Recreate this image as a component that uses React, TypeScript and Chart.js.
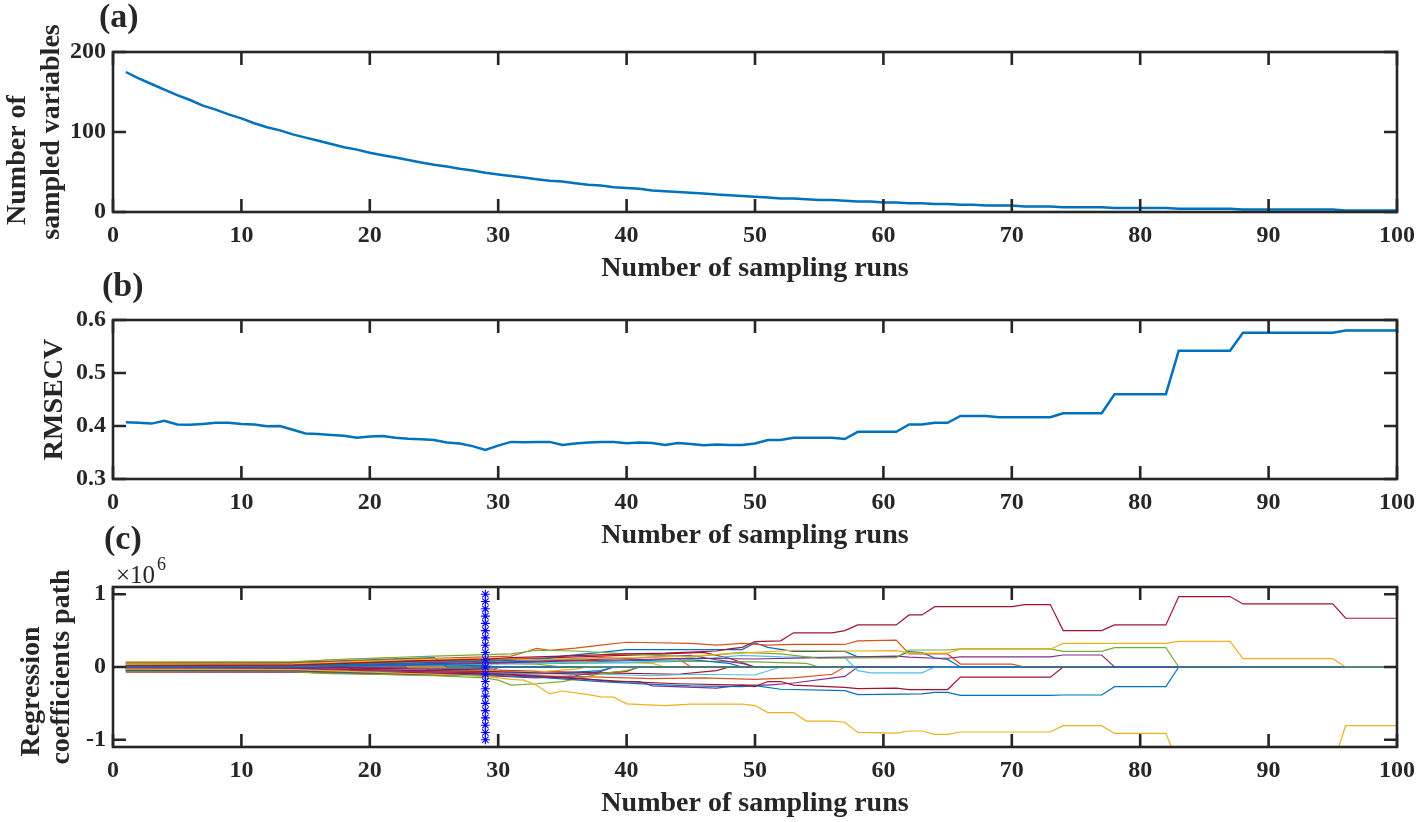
import React, { useEffect, useRef } from 'react';
import { Chart, registerables } from 'chart.js';

Chart.register(...registerables);

const AXIS = '#262626';
const LINE_BLUE = '#0072BD';
const FONT = '"Liberation Serif", "Times New Roman", serif';
const TICK_LEN = 13;

// ---------- tick values ----------
const runTicks = [0, 10, 20, 30, 40, 50, 60, 70, 80, 90, 100];
const sampledTicks = [0, 100, 200];
const rmsecvTicks = [0.3, 0.4, 0.5, 0.6];
const coefTicks = [-1, 0, 1];

// ---------- panel (a): number of sampled variables, runs 1..100 ----------
const sampledVariables = [
  175, 167, 160, 153, 146, 140, 133, 128, 122, 117,
  111, 106, 102, 97, 93, 89, 85, 81, 78, 74,
  71, 68, 65, 62, 59, 57, 54, 52, 49, 47,
  45, 43, 41, 39, 38, 36, 34, 33, 31, 30,
  29, 27, 26, 25, 24, 23, 22, 21, 20, 19,
  18, 17, 17, 16, 15, 15, 14, 13, 13, 12,
  12, 11, 11, 10, 10, 9, 9, 8, 8, 8,
  7, 7, 7, 6, 6, 6, 6, 5, 5, 5,
  5, 5, 4, 4, 4, 4, 4, 3, 3, 3,
  3, 3, 3, 3, 3, 2, 2, 2, 2, 2,
];

// ---------- panel (b): RMSECV, runs 1..100 ----------
const rmsecv = [
  0.407, 0.406, 0.4045, 0.41, 0.403, 0.4025, 0.404, 0.406, 0.406, 0.404,
  0.403, 0.3995, 0.4, 0.393, 0.386, 0.385, 0.383, 0.3815, 0.378, 0.38,
  0.381, 0.378, 0.376, 0.375, 0.3736, 0.369, 0.367, 0.362, 0.3547, 0.363,
  0.37, 0.3693, 0.37, 0.37, 0.3642, 0.367, 0.369, 0.37, 0.37, 0.3673,
  0.369, 0.368, 0.364, 0.368, 0.366, 0.3635, 0.365, 0.364, 0.364, 0.367,
  0.3736, 0.3736, 0.378, 0.378, 0.378, 0.378, 0.3755, 0.389, 0.389, 0.389,
  0.389, 0.403, 0.403, 0.406, 0.406, 0.419, 0.419, 0.419, 0.4165, 0.4165,
  0.4165, 0.4165, 0.4165, 0.424, 0.424, 0.424, 0.424, 0.46, 0.46, 0.46,
  0.46, 0.46, 0.542, 0.542, 0.542, 0.542, 0.542, 0.576, 0.576, 0.576,
  0.576, 0.576, 0.576, 0.576, 0.576, 0.58, 0.58, 0.58, 0.58, 0.58,
];

// ---------- panel (c): regression coefficient paths ([run, value x1e6]) ----------
const optimalRun = 29;
const markerLevels = [-1, -0.9, -0.8, -0.7, -0.6, -0.5, -0.4, -0.3, -0.2, -0.1, 0, 0.1, 0.2, 0.3, 0.4, 0.5, 0.6, 0.7, 0.8, 0.9, 1];

const coefPath00 = [[1, 0.008], [14, 0.01], [20, 0.02], [25, 0.03], [29, 0.02], [30, 0], [100, 0]];
const coefPath01 = [[1, 0.02], [14, 0.025], [20, 0.06], [25, 0.09], [29, 0.11], [31, 0.13], [35, 0.15], [40, 0.18], [43, 0.19], [47, 0.22], [48, 0.25], [49, 0.27], [50, 0.35], [52, 0.36], [53, 0.47], [56, 0.47], [57, 0.5], [58, 0.578], [61, 0.578], [62, 0.716], [63, 0.716], [64, 0.83], [70, 0.83], [71, 0.858], [73, 0.858], [74, 0.5], [77, 0.5], [78, 0.578], [82, 0.578], [83, 0.968], [87, 0.968], [88, 0.867], [95, 0.867], [96, 0.67], [100, 0.67]];
const coefPath02 = [[1, -0.03], [14, -0.035], [20, -0.07], [25, -0.1], [29, -0.13], [31, -0.17], [32, -0.18], [33, -0.25], [34, -0.37], [35, -0.33], [37, -0.38], [38, -0.41], [39, -0.415], [40, -0.507], [43, -0.53], [45, -0.51], [49, -0.51], [50, -0.53], [51, -0.626], [53, -0.626], [54, -0.744], [56, -0.744], [57, -0.76], [58, -0.9], [61, -0.908], [62, -0.88], [63, -0.88], [64, -0.927], [65, -0.927], [66, -0.894], [73, -0.894], [74, -0.807], [77, -0.807], [78, -0.913], [82, -0.913], [83, -1.35], [95, -1.35], [96, -0.807], [100, -0.807]];
const coefPath03 = [[1, 0.04], [14, 0.045], [20, 0.08], [25, 0.11], [29, 0.12], [33, 0.1], [38, 0.12], [45, 0.15], [50, 0.2], [53, 0.23], [57, 0.22], [61, 0.225], [62, 0.19], [65, 0.19], [66, 0.245], [73, 0.245], [74, 0.325], [82, 0.325], [83, 0.353], [87, 0.353], [88, 0.115], [95, 0.115], [96, 0], [100, 0]];
const coefPath04 = [[1, 0.065], [14, 0.07], [17, 0.1], [20, 0.12], [25, 0.15], [29, 0.17], [31, 0.18], [33, 0.23], [36, 0.22], [40, 0.18], [45, 0.14], [49, 0.2], [52, 0.18], [55, 0.12], [61, 0.13], [62, 0.234], [65, 0.234], [66, 0.248], [73, 0.248], [74, 0.216], [77, 0.216], [78, 0.266], [82, 0.266], [83, 0], [100, 0]];
const coefPath05 = [[1, -0.01], [14, -0.01], [20, 0.02], [29, 0.05], [35, 0.08], [40, 0.1], [45, 0.12], [50, 0.11], [55, 0.13], [58, 0.14], [61, 0.15], [62, 0.135], [64, 0.12], [65, 0.12], [66, 0.138], [73, 0.138], [74, 0.165], [77, 0.165], [78, 0], [100, 0]];
const coefPath06 = [[1, 0.05], [14, 0.055], [20, 0.09], [25, 0.12], [29, 0.14], [31, 0.15], [32, 0.2], [33, 0.256], [34, 0.23], [36, 0.26], [38, 0.3], [40, 0.34], [45, 0.325], [47, 0.3], [49, 0.325], [51, 0.3], [53, 0.31], [57, 0.31], [58, 0.36], [61, 0.37], [62, 0.18], [65, 0.18], [66, 0.04], [70, 0.04], [71, 0], [100, 0]];
const coefPath07 = [[1, 0.01], [14, 0.015], [20, 0.04], [29, 0.08], [33, 0.1], [35, 0.15], [38, 0.2], [40, 0.24], [49, 0.24], [50, 0.33], [51, 0.27], [53, 0.215], [57, 0.215], [58, 0.14], [61, 0.138], [62, 0.21], [63, 0.197], [64, 0.124], [65, 0.105], [66, 0], [100, 0]];
const coefPath08 = [[1, 0], [14, 0.005], [20, 0.02], [29, 0.04], [35, 0.06], [40, 0.06], [45, 0.1], [49, 0.16], [52, 0.14], [57, 0.13], [58, -0.05], [59, -0.08], [63, -0.08], [64, 0], [100, 0]];
const coefPath09 = [[1, -0.04], [14, -0.045], [20, -0.07], [29, -0.09], [30, -0.1], [35, -0.15], [40, -0.2], [44, -0.23], [49, -0.25], [50, -0.27], [51, -0.2], [52, -0.2], [53, -0.25], [57, -0.28], [58, -0.297], [61, -0.29], [62, -0.31], [65, -0.31], [66, -0.14], [73, -0.14], [74, 0], [100, 0]];
const coefPath10 = [[1, -0.05], [14, -0.055], [20, -0.08], [29, -0.11], [33, -0.14], [38, -0.2], [42, -0.24], [45, -0.26], [49, -0.27], [50, -0.255], [52, -0.306], [57, -0.324], [58, -0.38], [63, -0.37], [64, -0.35], [65, -0.35], [66, -0.39], [73, -0.39], [74, -0.385], [77, -0.385], [78, -0.27], [82, -0.27], [83, 0], [100, 0]];
const coefPath11 = [[1, -0.02], [14, -0.025], [20, -0.05], [29, -0.08], [33, -0.12], [36, -0.15], [39, -0.2], [41, -0.2], [42, -0.26], [47, -0.29], [49, -0.25], [51, -0.25], [53, -0.22], [57, -0.13], [58, 0], [100, 0]];
const coefPath12 = [[1, -0.06], [14, -0.065], [17, -0.09], [20, -0.1], [25, -0.12], [29, -0.15], [30, -0.18], [31, -0.25], [33, -0.23], [35, -0.2], [38, -0.09], [40, -0.05], [41, 0], [100, 0]];
const coefPath13 = [[1, 0.03], [14, 0.035], [20, 0.06], [29, 0.09], [31, 0.12], [34, 0.1], [38, 0.13], [42, 0.1], [44, 0.12], [45, 0], [100, 0]];
const coefPath14 = [[1, -0.015], [14, -0.02], [20, -0.04], [29, -0.06], [33, -0.08], [37, -0.1], [40, -0.06], [41, 0], [100, 0]];
const coefPath15 = [[1, 0.045], [14, 0.05], [20, 0.07], [29, 0.09], [33, 0.12], [38, 0.08], [45, 0.1], [48, 0.05], [49, 0], [100, 0]];
const coefPath16 = [[1, -0.045], [14, -0.05], [20, -0.06], [29, -0.05], [33, -0.07], [36, -0.03], [37, 0], [100, 0]];
const coefPath17 = [[1, 0.015], [14, 0.02], [20, 0.03], [29, 0.06], [33, 0.08], [37, 0.1], [40, 0.12], [45, 0.16], [47, 0.1], [49, 0.05], [50, 0], [100, 0]];
const coefPath18 = [[1, 0.035], [14, 0.04], [20, 0.05], [29, 0.07], [35, 0.05], [40, 0.06], [45, 0.08], [50, 0.07], [54, 0.05], [55, 0], [100, 0]];
const coefPath19 = [[1, -0.035], [14, -0.04], [20, -0.05], [29, -0.07], [33, -0.09], [38, -0.1], [42, -0.12], [45, -0.1], [50, -0.11], [52, 0], [100, 0]];
const coefPath20 = [[1, 0.055], [14, 0.06], [20, 0.08], [29, 0.1], [33, 0.12], [38, 0.15], [43, 0.18], [46, 0.2], [48, 0.12], [50, 0], [100, 0]];
const coefPath21 = [[1, -0.025], [14, -0.03], [20, -0.04], [29, -0.06], [32, -0.1], [35, -0.08], [38, -0.05], [39, 0], [100, 0]];
const coefPath22 = [[1, -0.055], [14, -0.06], [20, -0.08], [29, -0.1], [33, -0.12], [38, -0.14], [42, -0.16], [46, -0.15], [50, -0.17], [53, -0.15], [56, -0.1], [57, 0], [100, 0]];
const coefPath23 = [[1, 0.025], [14, 0.03], [20, 0.04], [29, 0.05], [34, 0.09], [38, 0.07], [42, 0.05], [43, 0], [100, 0]];
const coefPath24 = [[1, -0.065], [14, -0.07], [20, -0.09], [29, -0.12], [33, -0.15], [36, -0.12], [38, -0.06], [39, 0], [100, 0]];
const coefPath25 = [[1, 0.005], [14, 0.01], [20, 0.03], [29, 0.05], [33, 0.04], [35, 0], [100, 0]];
const coefPath26 = [[1, -0.005], [14, -0.008], [20, -0.02], [29, -0.04], [33, -0.06], [38, -0.08], [44, -0.1], [47, -0.05], [48, 0], [100, 0]];
const coefPath27 = [[1, 0.06], [14, 0.065], [20, 0.1], [25, 0.13], [26, 0], [100, 0]];
const coefPath28 = [[1, -0.07], [14, -0.07], [20, -0.1], [27, -0.12], [28, 0], [100, 0]];
const coefPath29 = [[1, 0.07], [14, 0.07], [17, 0.1], [22, 0.13], [23, 0], [100, 0]];
const coefPath30 = [[1, -0.03], [14, -0.035], [18, -0.05], [19, 0], [100, 0]];
const coefPath31 = [[1, 0.02], [14, 0.025], [21, 0.04], [22, 0], [100, 0]];
const coefPath32 = [[1, -0.05], [14, -0.055], [24, -0.08], [25, 0], [100, 0]];
const coefPath33 = [[1, 0.045], [14, 0.05], [16, 0.06], [17, 0], [100, 0]];
const coefPath34 = [[1, 0], [14, -0.002], [20, -0.01], [29, -0.02], [31, 0], [100, 0]];
const coefPath35 = [[1, -0.06], [14, -0.062], [26, -0.1], [29, -0.12], [30, 0], [100, 0]];
const coefPath36 = [[1, 0.03], [14, 0.03], [20, 0.06], [28, 0.08], [29, 0], [100, 0]];

const coefPaths = [
  coefPath00, coefPath01, coefPath02, coefPath03, coefPath04, coefPath05, coefPath06, coefPath07,
  coefPath08, coefPath09, coefPath10, coefPath11, coefPath12, coefPath13, coefPath14, coefPath15,
  coefPath16, coefPath17, coefPath18, coefPath19, coefPath20, coefPath21, coefPath22, coefPath23,
  coefPath24, coefPath25, coefPath26, coefPath27, coefPath28, coefPath29, coefPath30, coefPath31,
  coefPath32, coefPath33, coefPath34, coefPath35, coefPath36,
];

const MC: Record<string, string> = {
  blue: '#0072BD', orange: '#D95319', yellow: '#EDB120', purple: '#7E2F8E',
  green: '#77AC30', cyan: '#4DBEEE', red: '#A2142F',
};
const coefPathColors = [
  'blue', 'red', 'yellow', 'yellow', 'green', 'purple', 'orange', 'blue',
  'cyan', 'red', 'blue', 'purple', 'green', 'orange', 'red', 'blue',
  'yellow', 'purple', 'green', 'cyan', 'red', 'blue', 'orange', 'yellow',
  'purple', 'green', 'red', 'blue', 'orange', 'yellow', 'purple', 'green',
  'cyan', 'red', 'blue', 'orange', 'cyan',
];

// ---------- layout ----------
const W = 1416;
const H = 822;
const PLOT_LEFT = 113;
const PLOT_RIGHT = 1397;
const X_AXIS_H = 73.3;

type TitleLine = { text: string; x: number };
type PanelSpec = {
  top: number;
  bottom: number;
  label: string;
  labelX: number;
  labelY: number;
  yTitle: TitleLine[];
  exponent?: boolean;
};

function makeFramePlugin(spec: PanelSpec) {
  return {
    id: 'frameAndText',
    afterDraw(chart: any) {
      const { ctx, chartArea } = chart;
      const { left, right, top, bottom } = chartArea;
      const xs = chart.scales.x;
      const ys = chart.scales.y;
      ctx.save();
      ctx.strokeStyle = AXIS;
      ctx.lineWidth = 2.6;
      ctx.beginPath();
      for (const t of xs.ticks) {
        const px = xs.getPixelForValue(t.value);
        ctx.moveTo(px, bottom);
        ctx.lineTo(px, bottom - TICK_LEN);
        ctx.moveTo(px, top);
        ctx.lineTo(px, top + TICK_LEN);
      }
      for (const t of ys.ticks) {
        const py = ys.getPixelForValue(t.value);
        ctx.moveTo(left, py);
        ctx.lineTo(left + TICK_LEN, py);
        ctx.moveTo(right, py);
        ctx.lineTo(right - TICK_LEN, py);
      }
      ctx.stroke();
      ctx.lineJoin = 'miter';
      ctx.strokeRect(left, top, right - left, bottom - top);

      ctx.fillStyle = AXIS;
      ctx.textBaseline = 'alphabetic';
      ctx.textAlign = 'left';
      ctx.font = `bold 34px ${FONT}`;
      ctx.fillText(spec.label, spec.labelX, spec.labelY);

      ctx.font = `bold 28px ${FONT}`;
      ctx.textAlign = 'center';
      const cy = (top + bottom) / 2;
      for (const line of spec.yTitle) {
        ctx.save();
        ctx.translate(line.x, cy);
        ctx.rotate(-Math.PI / 2);
        ctx.fillText(line.text, 0, 0);
        ctx.restore();
      }
      if (spec.exponent) {
        ctx.textAlign = 'left';
        ctx.font = `25px ${FONT}`;
        ctx.fillText('\u00d710', 116, 583);
        ctx.font = `18px ${FONT}`;
        ctx.fillText('6', 157, 570);
      }
      ctx.restore();
    },
  };
}

function buildOptions(spec: PanelSpec, yMin: number, yMax: number, yTickValues: number[], fmt: (v: number) => string) {
  const tickFont = { family: FONT, size: 24, weight: 'bold' as const };
  return {
    responsive: true,
    maintainAspectRatio: false,
    animation: false as const,
    events: [] as any[],
    layout: {
      padding: {
        left: 0,
        right: W - PLOT_RIGHT,
        top: spec.top,
        bottom: H - spec.bottom - X_AXIS_H,
      },
    },
    plugins: { legend: { display: false }, tooltip: { enabled: false }, title: { display: false } },
    scales: {
      x: {
        type: 'linear' as const,
        min: 0,
        max: 100,
        grid: { display: false, drawTicks: false },
        border: { display: false },
        afterBuildTicks: (scale: any) => {
          scale.ticks = runTicks.map((v) => ({ value: v }));
        },
        afterFit: (scale: any) => {
          scale.height = X_AXIS_H;
          scale.paddingLeft = 0;
          scale.paddingRight = 0;
        },
        ticks: {
          autoSkip: false,
          maxRotation: 0,
          padding: 9,
          color: AXIS,
          font: tickFont,
          callback: (v: any) => String(v),
        },
        title: {
          display: true,
          text: 'Number of sampling runs',
          color: AXIS,
          font: { family: FONT, size: 28, weight: 'bold' as const },
          padding: 0,
        },
      },
      y: {
        type: 'linear' as const,
        min: yMin,
        max: yMax,
        grid: { display: false, drawTicks: false },
        border: { display: false },
        afterBuildTicks: (scale: any) => {
          scale.ticks = yTickValues.map((v) => ({ value: v }));
        },
        afterFit: (scale: any) => {
          scale.width = PLOT_LEFT;
          scale.paddingTop = 0;
          scale.paddingBottom = 0;
        },
        ticks: {
          autoSkip: false,
          padding: 7,
          color: AXIS,
          font: tickFont,
          callback: (v: any) => fmt(Number(v)),
        },
      },
    },
  };
}

const panelA: PanelSpec = {
  top: 52, bottom: 212, label: '(a)', labelX: 99, labelY: 27,
  yTitle: [{ text: 'Number of        ', x: 25 }, { text: 'sampled variables', x: 59 }],
};
const panelB: PanelSpec = {
  top: 320, bottom: 479, label: '(b)', labelX: 102, labelY: 296,
  yTitle: [{ text: 'RMSECV', x: 62 }],
};
const panelC: PanelSpec = {
  top: 587, bottom: 747, label: '(c)', labelX: 104, labelY: 549,
  yTitle: [{ text: 'Regression       ', x: 39 }, { text: 'coefficients path', x: 69 }],
  exponent: true,
};

function ChartLayer({ build }: { build: (canvas: HTMLCanvasElement) => Chart }) {
  const ref = useRef<HTMLCanvasElement | null>(null);
  useEffect(() => {
    if (!ref.current) return;
    const chart = build(ref.current);
    return () => chart.destroy();
  }, [build]);
  return (
    <div style={{ position: 'absolute', left: 0, top: 0, width: W, height: H }}>
      <canvas ref={ref} />
    </div>
  );
}

const buildA = (canvas: HTMLCanvasElement) =>
  new Chart(canvas, {
    type: 'line',
    data: {
      datasets: [
        {
          data: sampledVariables.map((v, i) => ({ x: i + 1, y: v })),
          borderColor: LINE_BLUE,
          borderWidth: 2.5,
          pointRadius: 0,
          tension: 0,
        },
      ],
    },
    options: buildOptions(panelA, 0, 200, sampledTicks, (v) => String(v)) as any,
    plugins: [makeFramePlugin(panelA)],
  });

const buildB = (canvas: HTMLCanvasElement) =>
  new Chart(canvas, {
    type: 'line',
    data: {
      datasets: [
        {
          data: rmsecv.map((v, i) => ({ x: i + 1, y: v })),
          borderColor: LINE_BLUE,
          borderWidth: 2.5,
          pointRadius: 0,
          tension: 0,
        },
      ],
    },
    options: buildOptions(panelB, 0.3, 0.6, rmsecvTicks, (v) => v.toFixed(1)) as any,
    plugins: [makeFramePlugin(panelB)],
  });

const buildC = (canvas: HTMLCanvasElement) => {
  const datasets: any[] = [
    {
      data: markerLevels.map((v) => ({ x: optimalRun, y: v })),
      showLine: false,
      pointStyle: 'star',
      pointRadius: 4.5,
      pointBorderColor: '#0000FF',
      pointBackgroundColor: '#0000FF',
      pointBorderWidth: 1.1,
      borderColor: '#0000FF',
    },
  ];
  coefPaths.forEach((path, i) => {
    datasets.push({
      data: path.map(([x, y]) => ({ x, y })),
      borderColor: MC[coefPathColors[i]],
      borderWidth: 1.2,
      pointRadius: 0,
      tension: 0,
    });
  });
  return new Chart(canvas, {
    type: 'line',
    data: { datasets },
    options: buildOptions(panelC, -1.1, 1.1, coefTicks, (v) => String(v)) as any,
    plugins: [makeFramePlugin(panelC)],
  });
};

export default function App() {
  return (
    <div style={{ position: 'absolute', left: 0, top: 0, width: W, height: H, background: '#ffffff' }}>
      <ChartLayer build={buildA} />
      <ChartLayer build={buildB} />
      <ChartLayer build={buildC} />
    </div>
  );
}
